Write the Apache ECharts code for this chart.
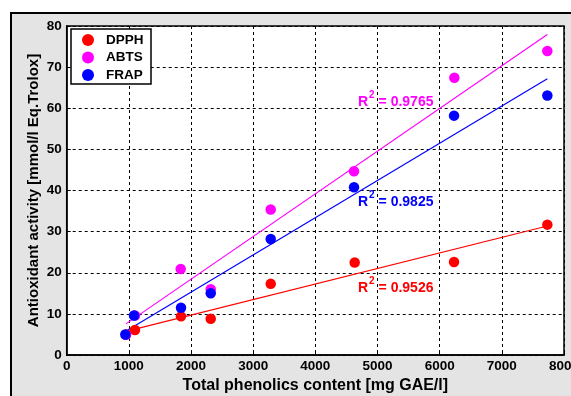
<!DOCTYPE html>
<html><head><meta charset="utf-8">
<script src="https://cdn.jsdelivr.net/npm/echarts@6/dist/echarts.min.js"></script>
<style>html,body{margin:0;padding:0;background:#fff}#c{width:571px;height:396px}</style>
</head><body><div id="c"></div>
<script>
const xDPPH = [954, 1099, 1839, 2317, 3282, 4633, 6231, 7732];
const yDPPH = [5.0, 6.1, 9.4, 8.8, 17.3, 22.5, 22.6, 31.7];
const xABTS = [954, 1099, 1834, 2317, 3282, 4622, 6236, 7732];
const yABTS = [4.9, 9.6, 20.9, 16.0, 35.4, 44.7, 67.4, 73.9];
const xFRAP = [943, 1083, 1839, 2317, 3282, 4622, 6231, 7732];
const yFRAP = [5.0, 9.6, 11.5, 15.0, 28.2, 40.8, 58.2, 63.1];
const seriesNames = ['DPPH', 'ABTS', 'FRAP'];
const r2Labels = ['0.9526', '0.9765', '0.9825'];
const colors = ['#ff0000', '#ff00ff', '#0000ff'];

function pairs(xs, ys) { return xs.map((x, i) => [x, ys[i]]); }
function fit(xs, ys) {
  const n = xs.length;
  const mx = xs.reduce((a, b) => a + b, 0) / n, my = ys.reduce((a, b) => a + b, 0) / n;
  let sxy = 0, sxx = 0;
  for (let i = 0; i < n; i++) { sxy += (xs[i] - mx) * (ys[i] - my); sxx += (xs[i] - mx) ** 2; }
  const b = sxy / sxx, a = my - b * mx;
  const x0 = Math.min(...xs), x1 = Math.max(...xs);
  return [[x0, a + b * x0], [x1, a + b * x1]];
}
const sets = [[xDPPH, yDPPH], [xABTS, yABTS], [xFRAP, yFRAP]];
const font = 'Liberation Sans, Arial, sans-serif';
const series = [];
sets.forEach((s, i) => {
  series.push({ type: 'line', data: fit(s[0], s[1]), symbol: 'none', lineStyle: { color: colors[i], width: 1.2 }, silent: true, z: 2, legendHoverLink: false, name: seriesNames[i] + '_fit' });
});
sets.forEach((s, i) => {
  series.push({ type: 'scatter', name: seriesNames[i], data: pairs(s[0], s[1]), symbolSize: 10.5, itemStyle: { color: colors[i], opacity: 1 }, z: 3 });
});

const chart = echarts.init(document.getElementById('c'), null, { renderer: 'canvas' });
const r2Pos = [[358, 286], [358, 100], [358, 200]];
const graphics = [
  { type: 'rect', shape: { x: 11, y: 13, width: 620, height: 420 }, style: { fill: '#e4e4e4', stroke: '#000', lineWidth: 2 }, z: -10, silent: true },
  { type: 'rect', shape: { x: 71, y: 29, width: 80, height: 55 }, style: { fill: '#fff', stroke: '#000', lineWidth: 1.5 }, z: 50 }
];
r2Pos.forEach((p, i) => {
  graphics.push({
    type: 'text', x: p[0], y: p[1], z: 60,
    style: {
      text: '{r|R}{s|2}{r| = ' + r2Labels[i] + '}',
      verticalAlign: 'middle',
      rich: {
        r: { fontFamily: font, fontWeight: 'bold', fontSize: 14, fill: colors[i], verticalAlign: 'bottom' },
        s: { fontFamily: font, fontWeight: 'bold', fontSize: 10, fill: colors[i], verticalAlign: 'top', padding: [0, 0, 9, 1] }
      }
    }
  });
});
chart.setOption({
  animation: false,
  backgroundColor: '#fff',
  textStyle: { fontFamily: font },
  graphic: graphics,
  grid: { left: 66.7, right: 7, top: 26, bottom: 41, show: true, backgroundColor: '#fff', borderColor: '#000', borderWidth: 1.5, z: 0, containLabel: false, outerBoundsMode: 'none' },
  legend: {
    data: seriesNames, left: 82, top: 33, padding: 0, orient: 'vertical', itemGap: 3.5, itemWidth: 12, itemHeight: 12, icon: 'circle', z: 70,
    textStyle: { fontFamily: font, fontWeight: 'bold', fontSize: 13.5, color: '#000', padding: [0, 0, 0, 7] }
  },
  xAxis: {
    type: 'value', min: 0, max: 8000, interval: 1000,
    name: 'Total phenolics content [mg GAE/l]', nameLocation: 'middle', nameGap: 21,
    nameTextStyle: { fontFamily: font, fontWeight: 'bold', fontSize: 16, color: '#000' },
    axisLine: { lineStyle: { color: '#000', width: 1.5 } },
    axisTick: { inside: true, length: 4, lineStyle: { color: '#000' } },
    axisLabel: { fontFamily: font, fontWeight: 'bold', fontSize: 13.5, color: '#000', margin: 4, formatter: v => String(v) },
    splitLine: { show: true, lineStyle: { color: '#000', type: [3, 3], width: 1 } }
  },
  yAxis: {
    type: 'value', min: 0, max: 80, interval: 10,
    name: 'Antioxidant activity [mmol/l Eq.Trolox]', nameLocation: 'middle', nameGap: 25, nameMoveOverlap: false,
    nameTextStyle: { fontFamily: font, fontWeight: 'bold', fontSize: 15, color: '#000' },
    axisLine: { lineStyle: { color: '#000', width: 1.5 } },
    axisTick: { inside: true, length: 4, lineStyle: { color: '#000' } },
    axisLabel: { fontFamily: font, fontWeight: 'bold', fontSize: 13.5, color: '#000', margin: 5 },
    splitLine: { show: true, lineStyle: { color: '#000', type: [3, 3], width: 1 } }
  },
  series: series
});
</script></body></html>
